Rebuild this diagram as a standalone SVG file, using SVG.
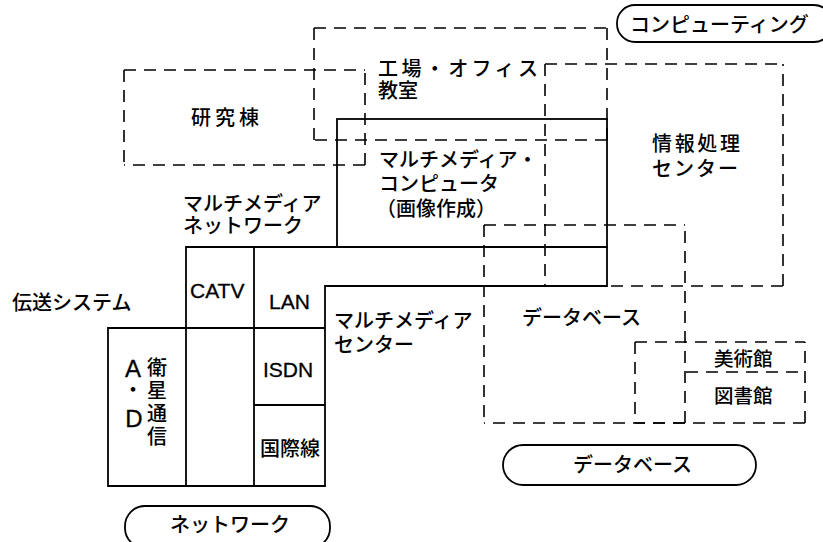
<svg xmlns="http://www.w3.org/2000/svg" width="823" height="542" viewBox="0 0 823 542">
<style>
.bg{fill:#fff}
.d{fill:none;stroke:#000;stroke-width:1.6;stroke-dasharray:12 8}
.s{fill:none;stroke:#000;stroke-width:1.8}
.j{font-family:"Noto Sans CJK JP","Noto Sans",sans-serif;font-size:20px;font-weight:500;fill:#000}
.l{font-family:"Liberation Sans",Arial,sans-serif;font-size:21px;fill:#000;stroke:#000;stroke-width:0.3}
</style>
<rect class="bg" x="0" y="0" width="823" height="542"/>
<g id="connectors"></g>
<g id="kenkyuto">
<path class="d" d="M124 70H365M124 70V165M365 165H124M365 165V70"/>
<text class="j" x="191" y="125" textLength="68" lengthAdjust="spacing">研究棟</text>
</g>
<g id="kojo-office">
<path class="d" d="M314 28H607M314 28V140M607 140H314M607 140V28"/>
<text class="j" x="378" y="76" textLength="160" lengthAdjust="spacing">工場・オフィス</text>
<text class="j" x="378" y="98">教室</text>
</g>
<g id="johoshori-center">
<path class="d" d="M545 64H783M545 64V286M783 286H545M783 286V64"/>
<text class="j" x="652" y="151" textLength="88" lengthAdjust="spacing">情報処理</text>
<text class="j" x="652" y="176" textLength="86" lengthAdjust="spacing">センター</text>
</g>
<g id="database">
<path class="d" d="M484 225H685M484 225V423M685 423H484M685 423V225"/>
<text class="j" x="522" y="325">データベース</text>
</g>
<g id="library">
<path class="d" d="M635 342H805M635 342V423M805 423H635M805 423V342M686 372H805"/>
<text class="j" x="714" y="366" style="font-size:19.5px">美術館</text>
<text class="j" x="714" y="403" style="font-size:19.5px">図書館</text>
</g>
<g id="mm-computer">
<rect class="s" x="337" y="119" width="270" height="128"/>
<text class="j" x="379" y="167">マルチメディア・</text>
<text class="j" x="379" y="191">コンピュータ</text>
<text class="j" x="376" y="216">（画像作成）</text>
</g>
<g id="network-block">
<path class="s" d="M108 328H186V247H607V286H325V486H108Z"/>
<path class="s" d="M186 328V486M254 247V486M186 328H325M254 405H325"/>
<text class="l" x="190" y="298">CATV</text>
<text class="l" x="269" y="309">LAN</text>
<text class="l" x="263" y="377">ISDN</text>
<text class="j" x="260" y="456">国際線</text>
<text class="l" x="133" y="377" text-anchor="middle" style="font-size:24px">A</text>
<text class="j" x="133" y="397" text-anchor="middle">・</text>
<text class="l" x="134" y="427" text-anchor="middle" style="font-size:24px">D</text>
<text class="j" x="147" y="375">衛</text>
<text class="j" x="147" y="398">星</text>
<text class="j" x="147" y="421">通</text>
<text class="j" x="147" y="444">信</text>
<text class="j" x="334" y="328">マルチメディア</text>
<text class="j" x="334" y="352">センター</text>
</g>
<g id="mm-network-label">
<text class="j" x="183" y="211">マルチメディア</text>
<text class="j" x="183" y="233">ネットワーク</text>
</g>
<g id="transmission-label">
<text class="j" x="12" y="310">伝送システム</text>
</g>
<g id="pill-computing">
<rect class="s" x="617" y="5" width="215" height="37" rx="18"/>
<text class="j" x="630" y="32">コンピューティング</text>
</g>
<g id="pill-database">
<rect class="s" x="503" y="445" width="253" height="40" rx="20"/>
<text class="j" x="573" y="472">データベース</text>
</g>
<g id="pill-network">
<rect class="s" x="125" y="506" width="205" height="42" rx="20"/>
<text class="j" x="170" y="532">ネットワーク</text>
</g>
</svg>
